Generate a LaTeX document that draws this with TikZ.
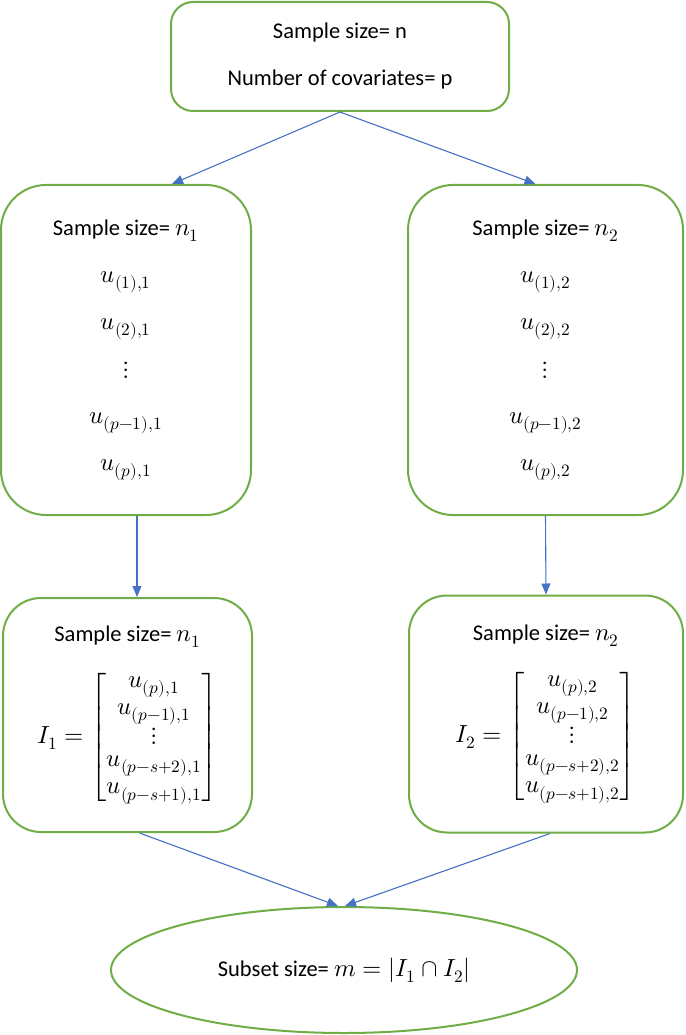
\documentclass[tikz,border=0pt]{standalone}
\usepackage{amsmath}
\usepackage{fontspec}
\usepackage{unicode-math}
\setmainfont{Carlito}
\setmathfont{Latin Modern Math}[Scale=1.1]
\usetikzlibrary{positioning, arrows.meta, shapes.geometric}
\definecolor{boxgreen}{RGB}{112,173,71}
\definecolor{arrowblue}{RGB}{68,114,196}
\setlength{\arraycolsep}{2pt}
\renewcommand{\arraystretch}{0.9}

\begin{document}
\begin{tikzpicture}[
x=1pt, y=-1pt,
box/.style={rectangle, draw=boxgreen, line width=2pt, align=center, font=\fontsize{22.5}{27}\selectfont},
arrow/.style={-{Triangle[length=11pt, width=9pt]}, draw=arrowblue, fill=arrowblue, line width=1.1pt}
]
\useasboundingbox (0,0) rectangle (685,1035);

\node[box, rounded corners=22pt, minimum width=338, minimum height=109] (start) at (340,56.5) {Sample size= n \\[20pt] Number of covariates= p};
\node[box, rounded corners=45pt, minimum width=250, minimum height=330] (grp_one) at (126,350) {Sample size= $n_1$ \\[20pt] $u_{(1),1}$ \\[20pt] $u_{(2),1}$ \\[20pt] $\vdots$ \\[20pt] $u_{(p-1),1}$ \\[20pt] $u_{(p),1}$};
\node[box, rounded corners=45pt, minimum width=275, minimum height=330] (grp_two) at (545.5,350) {Sample size= $n_2$ \\[20pt] $u_{(1),2}$ \\[20pt] $u_{(2),2}$ \\[20pt] $\vdots$ \\[20pt] $u_{(p-1),2}$ \\[20pt] $u_{(p),2}$};
\node[box, rounded corners=38pt, minimum width=249, minimum height=234] (set_one) at (127.5,715) {Sample size= $n_1$ \\[22pt] $I_1 = \begin{bmatrix} u_{(p),1} \\ u_{(p-1),1} \\ \vdots \\ u_{(p-s+2),1} \\ u_{(p-s+1),1} \end{bmatrix}$};
\node[box, rounded corners=38pt, minimum width=274, minimum height=237] (set_two) at (546,714) {Sample size= $n_2$ \\[22pt] $I_2 = \begin{bmatrix} u_{(p),2} \\ u_{(p-1),2} \\ \vdots \\ u_{(p-s+2),2} \\ u_{(p-s+1),2} \end{bmatrix}$};
\node[box, ellipse, minimum width=466, minimum height=126] (subset) at (344,970) {Subset size= $m = |I_1 \cap I_2|$};

\draw[arrow] (start.south) -- ([xshift=46]grp_one.north);
\draw[arrow] (start.south) -- ([xshift=-10]grp_two.north);
\draw[arrow] ([xshift=11]grp_one.south) -- ([xshift=9.5]set_one.north);
\draw[arrow] (grp_two.south) -- (set_two.north);
\draw[arrow] ([xshift=12]set_one.south) -- ([xshift=-6]subset.north);
\draw[arrow] ([xshift=4]set_two.south) -- ([xshift=1]subset.north);

\end{tikzpicture}
\end{document}
